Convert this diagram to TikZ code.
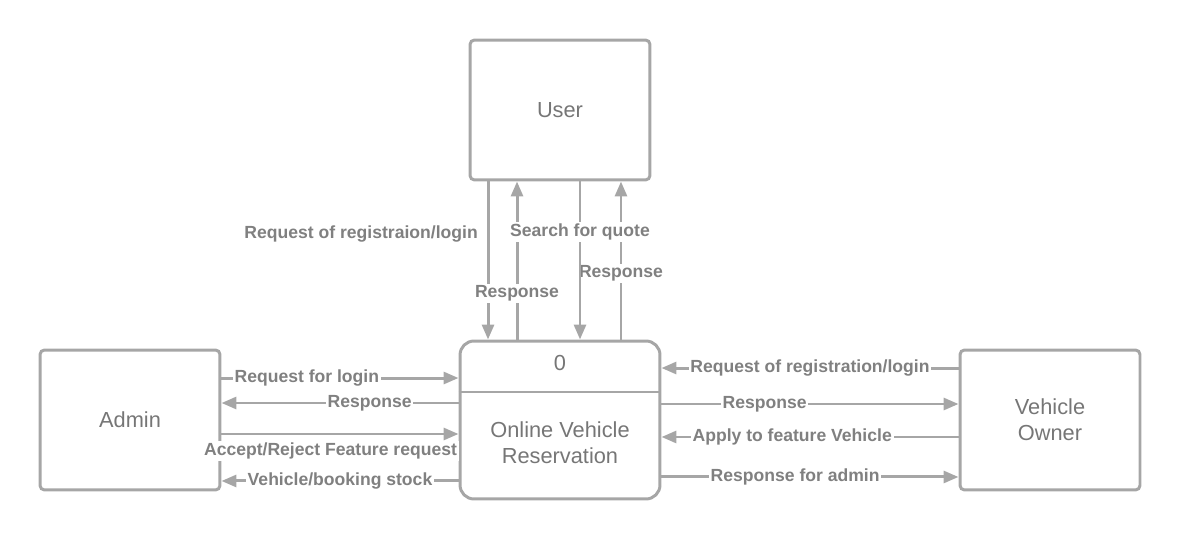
\documentclass[tikz,border=0pt]{standalone}
\usepackage{fontspec}
\setmainfont{Liberation Sans}
\usetikzlibrary{arrows.meta}
\definecolor{trait}{HTML}{A6A6A6}
\definecolor{texte}{HTML}{767676}
\definecolor{etiq}{HTML}{808080}
\begin{document}
\begin{tikzpicture}[
    x=0.02cm, y=-0.02cm, % une unité = un pixel de la maquette
    entite/.style={draw=trait, line width=1.7pt, rounded corners=0.09cm,
        minimum width=3.6cm, minimum height=2.8cm, align=center,
        text=texte, font=\fontsize{12.4}{15}\selectfont},
    processus/.style={entite, rounded corners=0.28cm,
        minimum width=4cm, minimum height=3.16cm},
    flux/.style={draw=trait, line width=1.7pt,
        -{Triangle[length=0.3cm, width=0.24cm]}},
    etiquette/.style={fill=white, inner sep=1pt, text=etiq,
        font=\bfseries\fontsize{10}{12}\selectfont}
]
\useasboundingbox (0,0) rectangle (1180,540);
% Entités et processus
\node[entite] (user) at (560,110) {User};
\node[entite] (admin) at (130,420) {Admin};
\node[entite] (owner) at (1050,420) {Vehicle\\Owner};
\node[processus] (proc) at (560,420) {};
\draw[trait, line width=1.7pt] ([yshift=0.56cm]proc.west) -- ([yshift=0.56cm]proc.east);
\node[text=texte, font=\fontsize{12.4}{15}\selectfont] (num) at ([yshift=1.14cm]proc.center) {0};
\node[text=texte, font=\fontsize{12.4}{15}\selectfont, align=center] (nom)
    at ([yshift=-0.46cm]proc.center) {Online Vehicle\\Reservation};
% Flux avec l'utilisateur
\draw[flux] ([xshift=-1.44cm]user.south) -- ([xshift=-1.44cm]proc.north)
    node[etiquette, left=4pt, pos=0.33] {Request of registraion/login};
\draw[flux] ([xshift=1.22cm]proc.north) -- ([xshift=1.22cm]user.south)
    node[etiquette, pos=0.42] {Response};
\draw[flux] ([xshift=-0.86cm]proc.north) -- ([xshift=-0.86cm]user.south)
    node[etiquette, pos=0.29] {Response};
\draw[flux] ([xshift=0.4cm]user.south) -- ([xshift=0.4cm]proc.north)
    node[etiquette, pos=0.32] {Search for quote};
% Flux avec l'administrateur
\draw[flux] ([yshift=0.84cm]admin.east) -- ([yshift=0.84cm]proc.west)
    node[etiquette, pos=0.36] {Request for login};
\draw[flux] ([yshift=0.34cm]proc.west) -- ([yshift=0.34cm]admin.east)
    node[etiquette, pos=0.375] {Response};
\draw[flux] ([yshift=-0.28cm]admin.east) -- ([yshift=-0.28cm]proc.west)
    node[etiquette, below=3pt, pos=0.46] {Accept/Reject Feature request};
\draw[flux] ([yshift=-1.22cm]proc.west) -- ([yshift=-1.22cm]admin.east)
    node[etiquette, pos=0.5] {Vehicle/booking stock};
% Flux avec le propriétaire
\draw[flux] ([yshift=1.04cm]owner.west) -- ([yshift=1.04cm]proc.east)
    node[etiquette, pos=0.5] {Request of registration/login};
\draw[flux] ([yshift=0.32cm]proc.east) -- ([yshift=0.32cm]owner.west)
    node[etiquette, pos=0.347] {Response};
\draw[flux] ([yshift=-0.34cm]owner.west) -- ([yshift=-0.34cm]proc.east)
    node[etiquette, pos=0.56] {Apply to feature Vehicle};
\draw[flux] ([yshift=-1.14cm]proc.east) -- ([yshift=-1.14cm]owner.west)
    node[etiquette, pos=0.45] {Response for admin};
\end{tikzpicture}
\end{document}
